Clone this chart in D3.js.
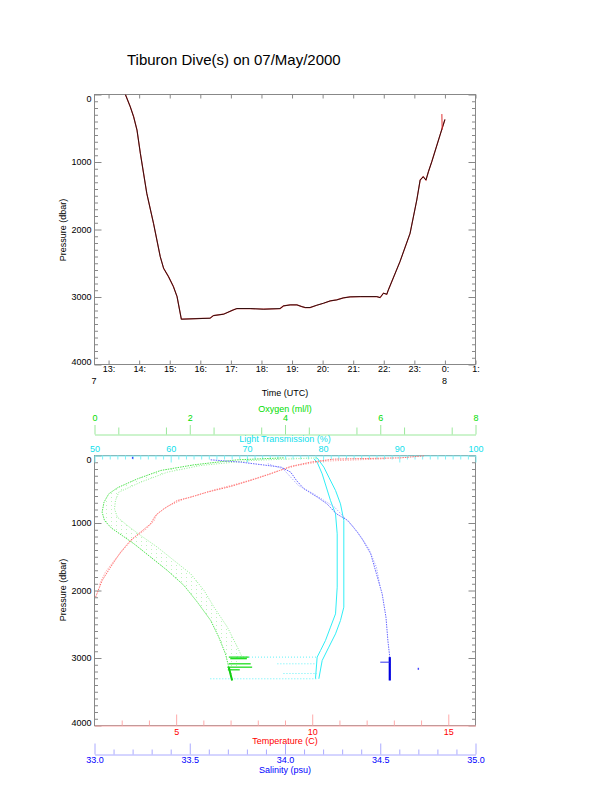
<!DOCTYPE html>
<meta charset="utf-8">
<script src="https://d3js.org/d3.v7.min.js"></script>
<style>
  body { margin: 0; background: #fff; }
</style>
<div id="chart"></div>
<script>
// ---- top panel: pressure against time ----
var diveHours = [13.55, 13.71, 13.82, 13.93, 14.04, 14.25, 14.47, 14.69, 14.80, 14.96, 15.12, 15.24, 15.38,
  16.32, 16.43, 16.76, 17.08, 17.20, 17.63, 18.07, 18.61, 18.72, 18.94, 19.16, 19.32, 19.43, 19.59,
  19.81, 20.03, 20.25, 20.46, 20.68, 20.90, 21.23, 21.77, 21.88, 21.99, 22.10, 22.15, 22.53, 22.86,
  23.08, 23.19, 23.29, 23.38, 23.46, 23.57, 23.84, 24.00];
var divePressure = [0, 182, 330, 528, 873, 1465, 1909, 2402, 2575, 2698, 2846, 2994, 3329,
  3314, 3275, 3255, 3191, 3171, 3171, 3181, 3171, 3132, 3117, 3117, 3142, 3156, 3156,
  3122, 3092, 3058, 3043, 3013, 2998, 2994, 2994, 3009, 2944, 2959, 2895, 2476, 2057,
  1563, 1268, 1218, 1268, 1144, 996, 602, 370];
var spikeHours = [23.90, 23.91];
var spikePressure = [290, 520];

var hourTicks = [13, 14, 15, 16, 17, 18, 19, 20, 21, 22, 23, 24, 25];
var hourLabels = ["13:", "14:", "15:", "16:", "17:", "18:", "19:", "20:", "21:", "22:", "23:", "0:", "1:"];
var dayTicks = [12.54, 24];
var dayLabels = ["7", "8"];
var pressureTicks = [0, 1000, 2000, 3000, 4000];

// ---- bottom panel: profiles, [value, pressure] ----
var tempDown = [[14.10, 5], [13.24, 35], [10.79, 54], [9.94, 99], [9.20, 163], [8.47, 272], [7.73, 370],
  [7.00, 459], [6.14, 543], [5.53, 617], [5.04, 667], [4.55, 790], [4.24, 889], [4.06, 1012],
  [3.69, 1136], [3.32, 1259], [2.96, 1432], [2.59, 1654], [2.28, 1852], [2.04, 2099]];
var tempUp = [[12.63, 49], [10.43, 84], [9.45, 148], [8.71, 232], [7.98, 331], [7.24, 420], [6.39, 509],
  [5.77, 588], [5.28, 647], [4.67, 756], [4.30, 864], [4.18, 973], [3.87, 1101], [3.45, 1220],
  [3.14, 1358], [2.77, 1531], [2.40, 1728], [2.16, 1926]];

var oxyDown = [[3.97, 35], [3.00, 64], [2.09, 138], [1.39, 222], [0.90, 346], [0.48, 479], [0.30, 568],
  [0.20, 691], [0.16, 839], [0.21, 963], [0.35, 1072], [0.58, 1185], [0.83, 1309], [1.18, 1506],
  [1.53, 1704], [1.88, 1926], [2.16, 2173], [2.44, 2444], [2.61, 2691], [2.75, 2938], [2.82, 3136], [2.89, 3333]];
var oxyUp = [[4.67, 35], [3.28, 74], [2.23, 148], [1.53, 247], [0.97, 395], [0.51, 543], [0.44, 667],
  [0.42, 790], [0.48, 914], [0.69, 1037], [0.97, 1185], [1.32, 1358], [1.67, 1556], [2.02, 1753],
  [2.30, 2000], [2.51, 2247], [2.79, 2543], [3.00, 2839], [3.10, 2987]];
var oxyStreaks = [[2.82, 3.24, 2987], [2.82, 3.28, 3086], [2.79, 3.31, 3136], [2.80, 3.05, 3175], [2.85, 3.20, 3010]];

var lightLeft = [[78.78, 49], [79.22, 99], [79.88, 272], [80.97, 667], [81.63, 864], [81.85, 1160],
  [81.85, 1951], [81.63, 2346], [80.97, 2543], [80.31, 2741], [79.66, 2889], [79.22, 2987], [79.00, 3308]];
var lightRight = [[79.22, 35], [80.10, 173], [80.75, 321], [81.63, 518], [82.28, 716], [82.72, 963],
  [82.72, 2247], [82.28, 2444], [81.63, 2642], [80.75, 2839], [79.88, 3037], [79.44, 3308]];
var lightStreaks = [[68.7, 79.2, 2987], [74.0, 79.2, 3086], [74.8, 79.2, 3230], [65.2, 79.2, 3308]];

var salDown = [[33.61, 64], [33.77, 99], [33.98, 173], [34.03, 247], [34.06, 370], [34.10, 494], [34.17, 617],
  [34.22, 716], [34.27, 864], [34.33, 963], [34.38, 1136], [34.41, 1259], [34.45, 1457], [34.48, 1753],
  [34.51, 2049], [34.53, 2395], [34.54, 2741], [34.55, 2987], [34.55, 3333]];
var salUp = [[33.91, 123], [33.99, 198], [34.07, 444], [34.15, 568], [34.26, 765], [34.31, 914],
  [34.36, 1062], [34.40, 1210], [34.44, 1383], [34.48, 1654], [34.50, 1951]];
var salBottom = [[34.55, 2987], [34.55, 3333]];
var salStreaks = [[34.50, 34.55, 3062]];
var salSingles = [[34.70, 3160], [33.20, 35]];

var oxyTicks = [0, 2, 4, 6, 8];
var lightTicks = [50, 60, 70, 80, 90, 100];
var tempTicks = [5, 10, 15];
var salTicks = [33.0, 33.5, 34.0, 34.5, 35.0];

var FONT = '"Liberation Sans", Arial, Helvetica, sans-serif';
var left = 94.5, right = 475.5;
var top1 = 94.5, bot1 = 364.5, top2 = 455.5, bot2 = 725.5;

var svg = d3.select("#chart").append("svg")
  .attr("width", 612).attr("height", 785)
  .attr("font-family", FONT);

function styleAxis(g, lineColor, textColor) {
  g.attr("font-size", 9).attr("font-family", FONT);
  g.selectAll(".domain").attr("stroke", lineColor);
  g.selectAll(".tick line").attr("stroke", lineColor);
  g.selectAll(".tick text").attr("fill", textColor);
  return g;
}
function pressureAxes(y, top, bot) {
  var minor = d3.range(100, 4000, 100).filter(function(d){ return d % 1000 != 0; });
  var gl = svg.append("g").attr("transform", "translate(" + left + ",0)")
    .call(d3.axisLeft(y).tickValues(pressureTicks).tickSize(-7).tickPadding(3).tickFormat(d3.format("d")));
  gl.select(".domain").remove();
  gl.selectAll(".tick text").attr("dy", function(d){ return d == 0 ? "0.75em" : (d == 4000 ? "-0.05em" : "0.32em"); });
  styleAxis(gl, "#888", "#000");
  var gm = svg.append("g").attr("transform", "translate(" + left + ",0)")
    .call(d3.axisLeft(y).tickValues(minor).tickSize(-3.5).tickFormat(""));
  gm.select(".domain").remove(); styleAxis(gm, "#888", "#000");
  var gr = svg.append("g").attr("transform", "translate(" + right + ",0)")
    .call(d3.axisRight(y).tickValues(pressureTicks).tickSize(-7).tickFormat(""));
  gr.select(".domain").remove(); styleAxis(gr, "#888", "#000");
  var grm = svg.append("g").attr("transform", "translate(" + right + ",0)")
    .call(d3.axisRight(y).tickValues(minor).tickSize(-3.5).tickFormat(""));
  grm.select(".domain").remove(); styleAxis(grm, "#888", "#000");
}

// ================= top panel =================
var x1 = d3.scaleLinear().domain([12.54, 25]).range([left, right]);
var y1 = d3.scaleLinear().domain([0, 4000]).range([top1, bot1]);

svg.append("text").attr("x", 127).attr("y", 65).attr("font-size", 15).text("Tiburon Dive(s) on 07/May/2000");

svg.append("defs").append("clipPath").attr("id", "clip1")
  .append("rect").attr("x", left).attr("y", top1).attr("width", right - left).attr("height", bot1 - top1);

svg.append("rect").attr("x", left).attr("y", top1).attr("width", right - left).attr("height", bot1 - top1)
  .attr("fill", "none").attr("stroke", "#888");
pressureAxes(y1, top1, bot1);

var gb = svg.append("g").attr("transform", "translate(0," + bot1 + ")")
  .call(d3.axisBottom(x1).tickValues(hourTicks).tickSize(-4).tickPadding(1.5)
    .tickFormat(function(d, i){ return hourLabels[i]; }));
gb.select(".domain").remove(); styleAxis(gb, "#888", "#000");
var gt = svg.append("g").attr("transform", "translate(0," + top1 + ")")
  .call(d3.axisTop(x1).tickValues(hourTicks).tickSize(-4).tickFormat(""));
gt.select(".domain").remove(); styleAxis(gt, "#888", "#000");

svg.selectAll(".daylab").data(dayTicks).enter().append("text").attr("class", "daylab")
  .attr("x", function(d){ return x1(d) - 0.5; }).attr("y", 384).attr("font-size", 9)
  .attr("text-anchor", "middle").text(function(d, i){ return dayLabels[i]; });
svg.append("text").attr("x", 285).attr("y", 396).attr("font-size", 9).attr("text-anchor", "middle").text("Time (UTC)");
svg.append("text").attr("transform", "translate(66,230) rotate(-90)").attr("font-size", 9)
  .attr("text-anchor", "middle").text("Pressure (dbar)");

var dive = diveHours.map(function(h, i){ return [h, divePressure[i]]; });
var diveLine = d3.line().x(function(d){ return x1(d[0]); }).y(function(d){ return y1(d[1]); });
var g1 = svg.append("g").attr("clip-path", "url(#clip1)");
g1.append("path").datum(dive).attr("d", diveLine).attr("fill", "none").attr("stroke", "#e04040").attr("stroke-width", 1.2);
g1.append("path").datum(dive).attr("d", diveLine).attr("fill", "none").attr("stroke", "#000").attr("stroke-width", 0.8);
g1.append("path").datum(spikeHours.map(function(h, i){ return [h, spikePressure[i]]; }))
  .attr("d", diveLine).attr("fill", "none").attr("stroke", "#e03030").attr("stroke-width", 1);

// ================= bottom panel =================
var y2 = d3.scaleLinear().domain([0, 4000]).range([top2, bot2]);
var xT = d3.scaleLinear().domain([2, 16]).range([left, right]);
var xS = d3.scaleLinear().domain([33, 35]).range([left, right]);
var xO = d3.scaleLinear().domain([0, 8]).range([left, right]);
var xL = d3.scaleLinear().domain([50, 100]).range([left, right]);

svg.append("rect").attr("x", left).attr("y", top2).attr("width", right - left).attr("height", bot2 - top2)
  .attr("fill", "none").attr("stroke", "#888");
pressureAxes(y2, top2, bot2);
svg.append("text").attr("transform", "translate(66,590) rotate(-90)").attr("font-size", 9)
  .attr("text-anchor", "middle").text("Pressure (dbar)");

// oxygen axis
var go = svg.append("g").attr("transform", "translate(0,434.5)")
  .call(d3.axisTop(xO).tickValues(oxyTicks).tickSize(9.5).tickPadding(4).tickSizeOuter(0));
styleAxis(go, "#9be89b", "#00dd00");
var gom = svg.append("g").attr("transform", "translate(0,434.5)")
  .call(d3.axisTop(xO).tickValues(d3.range(0.5, 8, 1)).tickSize(7).tickFormat(""));
gom.select(".domain").remove(); styleAxis(gom, "#9be89b", "#00dd00");
svg.append("text").attr("x", 285).attr("y", 412).attr("font-size", 9).attr("text-anchor", "middle")
  .attr("fill", "#00dd00").text("Oxygen (ml/l)");

// light transmission axis
var gl2 = svg.append("g").attr("transform", "translate(0," + top2 + ")")
  .call(d3.axisTop(xL).tickValues(lightTicks).tickSize(-7).tickPadding(3.5).tickSizeOuter(0));
styleAxis(gl2, "#80f0f6", "#10e0ec");
var glm = svg.append("g").attr("transform", "translate(0," + top2 + ")")
  .call(d3.axisTop(xL).tickValues(d3.range(51, 100, 1).filter(function(d){ return d % 10 != 0; })).tickSize(-4).tickFormat(""));
glm.select(".domain").remove(); styleAxis(glm, "#80f0f6", "#10e0ec");
svg.append("text").attr("x", 285).attr("y", 442).attr("font-size", 9).attr("text-anchor", "middle")
  .attr("fill", "#10e0ec").text("Light Transmission (%)");

// temperature axis
var gT = svg.append("g").attr("transform", "translate(0," + bot2 + ")")
  .call(d3.axisBottom(xT).tickValues(tempTicks).tickSize(-11).tickPadding(3).tickSizeOuter(0));
styleAxis(gT, "#ffaaaa", "#ff0000");
var gTm = svg.append("g").attr("transform", "translate(0," + bot2 + ")")
  .call(d3.axisBottom(xT).tickValues(d3.range(3, 16, 1).filter(function(d){ return d % 5 != 0; })).tickSize(-5).tickFormat(""));
gTm.select(".domain").remove(); styleAxis(gTm, "#ffaaaa", "#ff0000");
svg.append("text").attr("x", 285).attr("y", 743.5).attr("font-size", 9).attr("text-anchor", "middle")
  .attr("fill", "#ff0000").text("Temperature (C)");

// salinity axis
var gS = svg.append("g").attr("transform", "translate(0,754.5)")
  .call(d3.axisBottom(xS).tickValues(salTicks).tickSize(-11).tickPadding(2.4).tickSizeOuter(0)
    .tickFormat(d3.format(".1f")));
styleAxis(gS, "#aaaaff", "#0000ff");
var gSm = svg.append("g").attr("transform", "translate(0,754.5)")
  .call(d3.axisBottom(xS).tickValues(d3.range(33.1, 35, 0.1).filter(function(d){ return Math.abs(d * 2 - Math.round(d * 2)) > 0.01; })).tickSize(-5).tickFormat(""));
gSm.select(".domain").remove(); styleAxis(gSm, "#aaaaff", "#0000ff");
svg.append("text").attr("x", 285).attr("y", 773).attr("font-size", 9).attr("text-anchor", "middle")
  .attr("fill", "#0000ff").text("Salinity (psu)");

// profile traces
var g2 = svg.append("g");
function trace(data, xs, color, width, dash) {
  g2.append("path").datum(data)
    .attr("d", d3.line().x(function(d){ return xs(d[0]); }).y(function(d){ return y2(d[1]); }))
    .attr("fill", "none").attr("stroke", color).attr("stroke-width", width)
    .attr("stroke-dasharray", dash);
}
function streaks(data, xs, color, width, dash) {
  g2.selectAll(null).data(data).enter().append("line")
    .attr("x1", function(d){ return xs(d[0]); }).attr("x2", function(d){ return xs(d[1]); })
    .attr("y1", function(d){ return y2(d[2]); }).attr("y2", function(d){ return y2(d[2]); })
    .attr("stroke", color).attr("stroke-width", width).attr("stroke-dasharray", dash);
}

// oxygen cloud between the two passes
var pat = svg.select("defs").append("pattern").attr("id", "oxyDots")
  .attr("patternUnits", "userSpaceOnUse").attr("width", 5).attr("height", 4);
pat.append("rect").attr("x", 1).attr("y", 1).attr("width", 0.9).attr("height", 0.9).attr("fill", "#7be87b");
g2.append("path").datum(oxyDown.concat(oxyUp.slice().reverse()))
  .attr("d", d3.line().x(function(d){ return xO(d[0]); }).y(function(d){ return y2(d[1]); }))
  .attr("fill", "url(#oxyDots)").attr("stroke", "none").attr("opacity", 0.6);

trace(lightLeft, xL, "#30eef6", 1, null);
trace(lightRight, xL, "#30eef6", 1, null);
streaks(lightStreaks, xL, "#60f2f8", 1, "1,2");
trace(oxyDown, xO, "#4ee44e", 1, "1.5,1");
trace(oxyUp, xO, "#8ef08e", 1, "1,1.5");
streaks(oxyStreaks, xO, "#22dd22", 1.3, null);
g2.append("path").datum(oxyDown.slice(-2))
  .attr("d", d3.line().x(function(d){ return xO(d[0]); }).y(function(d){ return y2(d[1]); }))
  .attr("stroke", "#11cc11").attr("stroke-width", 2).attr("fill", "none");
trace(tempDown, xT, "#ff6a6a", 1, "1.5,1");
trace(tempUp, xT, "#ff9090", 1, "1,1.5");
trace(salDown, xS, "#6666ff", 1, "1.5,1");
trace(salUp, xS, "#9999ff", 1, "1,1.5");
trace(salBottom, xS, "#0000e0", 2.2, null);
streaks(salStreaks, xS, "#3333ee", 1, null);
g2.selectAll(null).data(salSingles).enter().append("rect")
  .attr("x", function(d){ return xS(d[0]) - 0.7; }).attr("y", function(d){ return y2(d[1]) - 1; })
  .attr("width", 1.4).attr("height", 2).attr("fill", "#4444ff");
</script>
